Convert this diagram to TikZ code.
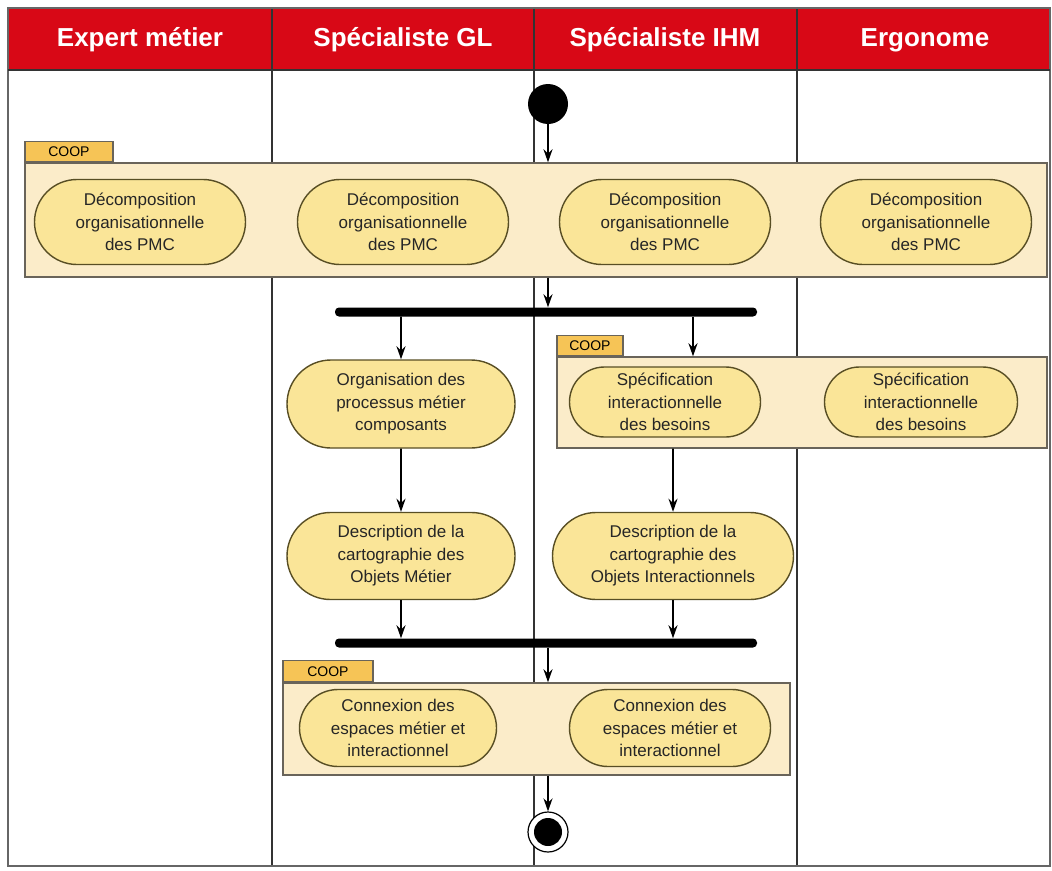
\documentclass[tikz,border=0pt]{standalone}
\usepackage{fontspec}
\setmainfont{Liberation Sans}
\usepackage{xcolor}
\usetikzlibrary{arrows.meta,positioning,shapes.misc}
\definecolor{lanered}{RGB}{216,8,22}
\definecolor{actfill}{RGB}{250,229,152}
\definecolor{actdraw}{RGB}{88,78,36}
\definecolor{coopfill}{RGB}{251,236,201}
\definecolor{coopdraw}{RGB}{105,100,90}
\definecolor{tabfill}{RGB}{246,196,86}
\tikzset{>=Stealth}
\tikzset{
  lane/.style={draw=black!80,line width=1.2pt},
  lanehead/.style={text=white,font=\bfseries\fontsize{26}{30}\selectfont},
  activity/.style={rounded rectangle,draw=actdraw,fill=actfill,line width=1.4pt,
    align=center,inner sep=2pt,text=black!85,font=\fontsize{17}{22.5}\selectfont},
  coopbox/.style={rectangle,draw=coopdraw,fill=coopfill,line width=1.4pt,inner sep=0pt},
  cooptab/.style={rectangle,draw=coopdraw,fill=tabfill,line width=1.2pt,inner sep=0pt,
    anchor=south west,minimum height=20pt,font=\fontsize{14}{16}\selectfont},
  syncbar/.style={rounded corners=4pt,fill=black,minimum height=9pt,inner sep=0pt},
  flow/.style={line width=1.8pt,-{Stealth[length=13pt,width=9pt]}}
}

\begin{document}
\begin{tikzpicture}[x=1pt,y=-1pt]
    \useasboundingbox (0,0) rectangle (1052,870);
    % couloirs
    \fill[lanered] (8,8) rectangle (1050,70);
    \foreach \x in {272,534,797}
        \draw[lane] (\x,8) -- (\x,866);
    \draw[lane,draw=black!60,line width=2pt] (8,8) rectangle (1050,866);
    \draw[lane] (8,70) -- (1050,70);
    \node[lanehead] (expert) at (140,40) {Expert métier};
    \node[lanehead] (gl) at (403,40) {Spécialiste GL};
    \node[lanehead] (ihm) at (665,40) {Spécialiste IHM};
    \node[lanehead] (ergo) at (925,40) {Ergonome};

    \node[circle,fill=black,minimum size=40pt,inner sep=0pt] (start) at (548,104) {};

    % premier bloc COOP
    \node[coopbox,minimum width=1022pt,minimum height=114pt] (coop1) at (536,220) {};
    \node[cooptab,minimum width=88pt] (tab1) at (coop1.north west) {COOP};
    \foreach \x/\n in {140/dec1,403/dec2,665/dec3,926/dec4}
        \node[activity,minimum width=215pt,minimum height=85pt] (\n) at (\x,222)
            {Décomposition\\organisationnelle\\des PMC};

    \node[syncbar,minimum width=422pt] (bar1) at (546,312) {};
    \coordinate (fork1) at (693,312);

    \node[activity,minimum width=232pt,minimum height=88pt] (org) at (401,404)
        {Organisation des\\processus métier\\composants};

    % second bloc COOP
    \node[coopbox,minimum width=490pt,minimum height=91pt] (coop2) at (802,402.5) {};
    \node[cooptab,minimum width=66pt] (tab2) at (coop2.north west) {COOP};
    \node[activity,minimum width=195pt,minimum height=70pt] (spec1) at (665,402)
        {Spécification\\interactionnelle\\des besoins};
    \node[activity,minimum width=197pt,minimum height=70pt] (spec2) at (921,402)
        {Spécification\\interactionnelle\\des besoins};

    \node[activity,minimum width=232pt,minimum height=87pt] (descgl) at (401,556)
        {Description de la\\cartographie des\\Objets Métier};
    \node[activity,minimum width=245pt,minimum height=87pt] (descihm) at (673,556)
        {Description de la\\cartographie des\\Objets Interactionnels};

    \node[syncbar,minimum width=422pt] (bar2) at (546,643) {};

    % troisieme bloc COOP
    \node[coopbox,minimum width=507pt,minimum height=92pt] (coop3) at (536.5,729) {};
    \node[cooptab,minimum width=90pt,minimum height=21pt] (tab3) at (coop3.north west) {COOP};
    \node[activity,minimum width=201pt,minimum height=77pt] (conn1) at (398,728)
        {Connexion des\\espaces métier et\\interactionnel};
    \node[activity,minimum width=205pt,minimum height=77pt] (conn2) at (670,728)
        {Connexion des\\espaces métier et\\interactionnel};

    \node[circle,draw=black,fill=white,line width=1.2pt,minimum size=40pt,inner sep=0pt] (end) at (548,832) {};
    \fill[black] (end) circle (14pt);

    \draw[flow] (start) -- (start |- coop1.north);
    \draw[flow] (start |- coop1.south) -- (start |- bar1.north);
    \draw[flow] (bar1.south -| org) -- (org);
    \draw[flow] (bar1.south -| fork1) -- (fork1 |- coop2.north);
    \draw[flow] (org) -- (descgl);
    \draw[flow] (coop2.south -| descihm) -- (descihm);
    \draw[flow] (descgl) -- (descgl |- bar2.north);
    \draw[flow] (descihm) -- (descihm |- bar2.north);
    \draw[flow] (bar2.south -| start) -- (start |- coop3.north);
    \draw[flow] (start |- coop3.south) -- (end);
\end{tikzpicture}
\end{document}
